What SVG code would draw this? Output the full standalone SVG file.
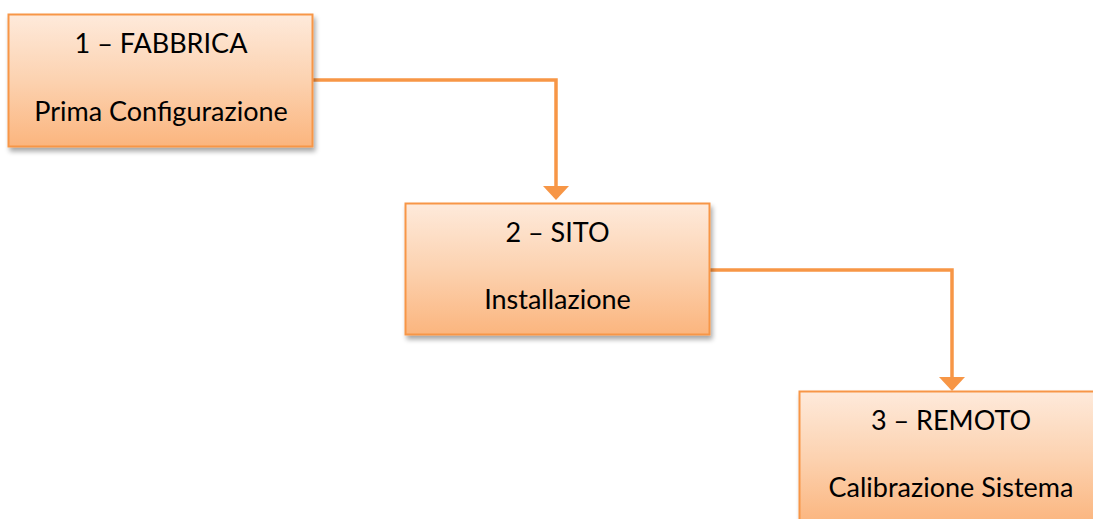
<svg xmlns="http://www.w3.org/2000/svg" width="1093" height="519" viewBox="0 0 1093 519">
<defs>
<linearGradient id="g" x1="0" y1="0" x2="0" y2="1">
<stop offset="0" stop-color="#FEEADB"/>
<stop offset="0.5" stop-color="#FCD2B0"/>
<stop offset="1" stop-color="#FBB57E"/>
</linearGradient>
<filter id="sh" x="-10%" y="-10%" width="130%" height="140%">
<feGaussianBlur in="SourceAlpha" stdDeviation="2.5"/>
<feOffset dx="2" dy="4" result="b"/>
<feComponentTransfer><feFuncA type="linear" slope="0.35"/></feComponentTransfer>
<feMerge><feMergeNode/><feMergeNode in="SourceGraphic"/></feMerge>
</filter>
</defs>
<style>
.box{fill:url(#g);stroke:#F79646;stroke-width:2;filter:url(#sh)}
.t{font-family:Lato,"Open Sans","Liberation Sans",sans-serif;font-size:27px;fill:#000;text-anchor:middle}
.c{fill:none;stroke:#F79646;stroke-width:3.5}
.ah{fill:#F79646}
</style>
<g id="connectors">
<path class="c" d="M313,80 H556 V187"/>
<path class="ah" d="M543,186 L569,186 L556,200 Z"/>
<path class="c" d="M710,270 H952 V378"/>
<path class="ah" d="M939,377 L965,377 L952,391 Z"/>
</g>
<g id="n1">
<rect class="box" x="8.5" y="14.5" width="304" height="132"/>
<text class="t" x="161" y="53">1 – FABBRICA</text>
<text class="t" x="161" y="121">Prima Configurazione</text>
</g>
<g id="n2">
<rect class="box" x="405.5" y="203.5" width="304" height="131"/>
<text class="t" x="557.5" y="242">2 – SITO</text>
<text class="t" x="557.5" y="309">Installazione</text>
</g>
<g id="n3">
<rect class="box" x="799.5" y="391.5" width="304" height="133"/>
<text class="t" x="951" y="430">3 – REMOTO</text>
<text class="t" x="951" y="497">Calibrazione Sistema</text>
</g>
</svg>
